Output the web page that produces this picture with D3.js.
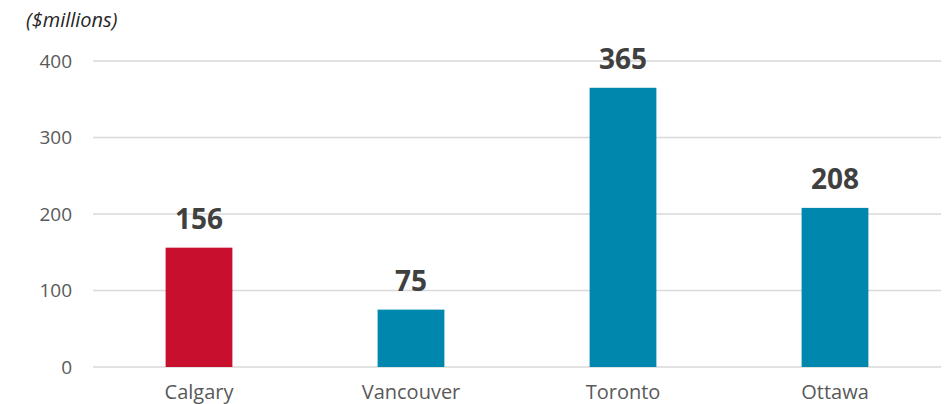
<!DOCTYPE html>
<html><head><meta charset="utf-8">
<script src="https://cdn.jsdelivr.net/npm/d3@7"></script>
<style>body{margin:0;background:#fff}svg{display:block}</style>
</head><body>
<svg id="c" width="949" height="404"></svg>
<script>
const categories = ["Calgary", "Vancouver", "Toronto", "Ottawa"];
const values = [156, 75, 365, 208];
const barColors = ["#C8102E", "#0087AD", "#0087AD", "#0087AD"];
const yTicks = [0, 100, 200, 300, 400];
const unitLabel = "($millions)";

(function () {
const svg = d3.select("#c");
const font = "'Open Sans', 'Segoe UI', sans-serif";
const mLeft = 93, mRight = 941, mTop = 61, mBottom = 367;

const x = d3.scaleBand().domain(categories).range([mLeft, mRight]).paddingInner(0.685).paddingOuter(0.3425);
const y = d3.scaleLinear().domain([0, 400]).range([mBottom, mTop]);

// gridlines
svg.append("g").selectAll("line").data(yTicks).join("line")
  .attr("x1", mLeft).attr("x2", mRight)
  .attr("y1", d => y(d)).attr("y2", d => y(d))
  .attr("stroke", "#d9d9d9").attr("stroke-width", 1.3);

// y axis labels
const yAxis = d3.axisLeft(y).tickValues(yTicks).tickSize(0).tickPadding(21);
const gy = svg.append("g").attr("transform", `translate(${mLeft},0)`).call(yAxis);
gy.select(".domain").remove();
gy.selectAll("text").attr("font-family", font).attr("font-size", 19).attr("fill", "#595959");

// x axis labels
const xAxis = d3.axisBottom(x).tickSize(0).tickPadding(18);
const gx = svg.append("g").attr("transform", `translate(0,${mBottom})`).call(xAxis);
gx.select(".domain").remove();
gx.selectAll("text").attr("font-family", font).attr("font-size", 20).attr("fill", "#595959");

// bars
svg.append("g").selectAll("rect").data(values).join("rect")
  .attr("x", (d, i) => x(categories[i]))
  .attr("width", x.bandwidth())
  .attr("y", d => y(d))
  .attr("height", d => y(0) - y(d))
  .attr("fill", (d, i) => barColors[i]);

// value labels
svg.append("g").selectAll("text").data(values).join("text")
  .attr("x", (d, i) => x(categories[i]) + x.bandwidth() / 2)
  .attr("y", d => y(d) - 19)
  .attr("text-anchor", "middle")
  .attr("font-family", font).attr("font-size", 28).attr("font-weight", "bold")
  .attr("fill", "#404040")
  .text(d => d);

// unit label
svg.append("text").attr("x", 26).attr("y", 27)
  .attr("font-family", font).attr("font-size", 20).attr("font-style", "italic")
  .attr("fill", "#262626").text(unitLabel);
})();
</script>
</body></html>
